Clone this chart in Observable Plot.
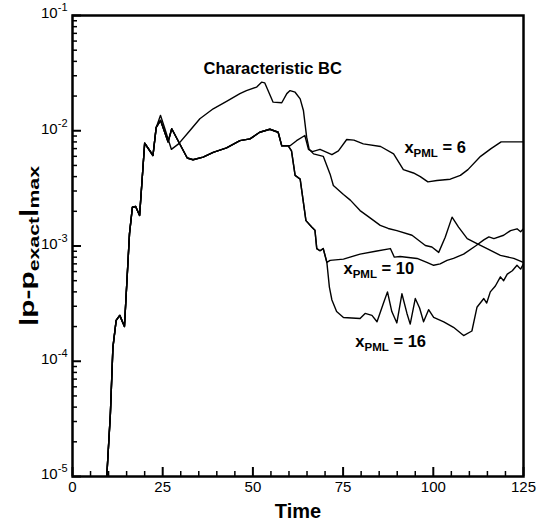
<!DOCTYPE html>
<html><head><meta charset="utf-8">
<script src="https://cdn.jsdelivr.net/npm/d3@7"></script>
<script src="https://cdn.jsdelivr.net/npm/@observablehq/plot@0.6"></script>
<style>body{margin:0;background:#fff} #chart svg{display:block}</style>
</head><body><div id="chart"></div>
<script>
// ---- data (Time, |p - p_exact|_max) ----
const rise = [[9.5,1e-5],[10.5,3.5e-5],[11.2,1.32e-4],[12.1,2.26e-4],[13.1,2.5e-4],[14.4,2.0e-4],[15.8,1.28e-3],[16.6,2.17e-3],[17.5,2.2e-3],[18.6,1.84e-3],[20.0,7.8e-3],[22.3,6.1e-3],[23.2,1.07e-2]];
const charBCTail = [[24.4,1.36e-2],[25.6,1.04e-2],[27.4,6.9e-3],[29.4,7.7e-3],[32.5,1.0e-2],[35.3,1.27e-2],[39,1.55e-2],[42.7,1.8e-2],[46.4,2.1e-2],[48.2,2.23e-2],[51,2.39e-2],[52.4,2.64e-2],[53.3,2.6e-2],[55.6,1.77e-2],[58,1.75e-2],[59.4,2.1e-2],[60.3,2.23e-2],[61.7,2.16e-2],[63.1,1.89e-2],[64,1.5e-2],[64.9,8.8e-3],[65.6,6.9e-3],[66.8,6.3e-3],[69.5,6.0e-3],[71.4,4.2e-3],[72.3,3.35e-3],[75.1,2.8e-3],[77,2.5e-3],[79.7,2.03e-3],[82,1.8e-3],[85.3,1.51e-3],[87.5,1.42e-3],[89.9,1.36e-3],[94.1,1.24e-3],[97.8,1.01e-3],[99.6,9.8e-4],[101.5,8.8e-4],[103.3,1.19e-3],[105.2,1.78e-3],[107,1.46e-3],[109.4,1.16e-3],[112.1,1.05e-3],[114.9,9.5e-4],[118.6,8.3e-4],[122.3,7.8e-4],[125,7.2e-4]];
const bundle = [[24.4,1.23e-2],[26.5,8.0e-3],[27.5,1.04e-2],[31.8,5.8e-3],[33.4,5.6e-3],[36.2,5.9e-3],[39,6.5e-3],[42.7,7.1e-3],[46.4,8.2e-3],[49.2,8.5e-3],[51.9,9.7e-3],[54.7,1.03e-2],[57,9.7e-3],[58,7.4e-3]];
const pml6Tail = [[60.3,7.4e-3],[62.1,8.2e-3],[64.4,9.1e-3],[65.4,6.9e-3],[66.5,6.6e-3],[68.6,6.9e-3],[70.5,6.5e-3],[71.9,6.2e-3],[73.7,6.7e-3],[76,8.4e-3],[78,8.3e-3],[80.6,7.7e-3],[85.4,7.3e-3],[89,6.3e-3],[91.7,4.6e-3],[94.5,4.3e-3],[96.4,4.0e-3],[98.5,3.6e-3],[101,3.7e-3],[104.7,3.8e-3],[107.5,4.1e-3],[109.6,4.6e-3],[113.1,6.0e-3],[116,7.0e-3],[118.8,8.0e-3],[125,8.0e-3]];
const drop = [[59.8,7.4e-3],[60.7,6.7e-3],[61.7,4.1e-3],[63.1,3.8e-3],[64.7,1.66e-3],[66.3,1.46e-3],[67.2,1.37e-3],[67.7,9.5e-4],[68.6,9.1e-4],[69.5,9.5e-4],[70.5,7.2e-4]];
const pml10Tail = [[71.4,7.5e-4],[75.1,7.7e-4],[79.7,8.5e-4],[84,9.0e-4],[88.1,9.5e-4],[89.2,8.0e-4],[90.8,8.1e-4],[95.5,7.8e-4],[98.2,7.2e-4],[100.1,6.8e-4],[101.9,7.0e-4],[103.8,7.5e-4],[105.6,7.8e-4],[108.4,8.5e-4],[111.7,1.0e-3],[114,1.13e-3],[115.4,1.2e-3],[116.8,1.16e-3],[119.5,1.24e-3],[121.4,1.36e-3],[123.2,1.41e-3],[124.2,1.33e-3],[125,1.41e-3]];
const pml16Tail = [[71.2,4.4e-4],[71.9,3.4e-4],[73.2,2.7e-4],[75.1,2.4e-4],[79.7,2.35e-4],[81.1,2.6e-4],[83,2.5e-4],[84.4,2.2e-4],[86.2,3.2e-4],[87.3,4.0e-4],[88.5,2.7e-4],[89.9,2.15e-4],[91.3,3.85e-4],[92.7,2.6e-4],[93.6,2.1e-4],[95,3.5e-4],[96.2,2.9e-4],[97.3,2.2e-4],[98.7,2.8e-4],[100.1,2.4e-4],[102.9,2.2e-4],[105.6,1.97e-4],[108.4,1.67e-4],[110.7,1.83e-4],[112.1,2.94e-4],[114,3.5e-4],[114.8,3.2e-4],[115.8,4.0e-4],[117.2,4.5e-4],[118.6,5.4e-4],[119.5,5.0e-4],[120.5,5.7e-4],[121.9,6.1e-4],[123.2,6.8e-4],[124.2,6.3e-4],[125,7.0e-4]];

const series = {
  "Characteristic BC": rise.concat(charBCTail),
  "x_PML = 6": rise.concat(bundle, pml6Tail),
  "x_PML = 10": rise.concat(bundle, drop, pml10Tail),
  "x_PML = 16": rise.concat(bundle, drop, pml16Tail)
};

const xMajor = [0,25,50,75,100,125];
const xMinor = [5,10,15,20,30,35,40,45,55,60,65,70,80,85,90,95,105,110,115,120];
const yMajor = [1e-5,1e-4,1e-3,1e-2,1e-1];
const yMinorMant = [2,3,4,5,6,7,8,9];
const yMinor = yMajor.slice(0,4).flatMap(d => yMinorMant.map(m => m*d));

const titleNote = [{t:36.3, v:3.12e-2, parts:[["Characteristic BC","n"]]}];
const pmlNotes = [
  {t:92.0, v:6.44e-3, parts:[["x","n"],["PML","sub"],[" = 6","n"]]},
  {t:75.1, v:5.74e-4, parts:[["x","n"],["PML","sub"],[" = 10","n"]]},
  {t:78.4, v:1.32e-4, parts:[["x","n"],["PML","sub"],[" = 16","n"]]}
];
const yTitleParts = [["|p-p","n"],["exact","sub"],["|","n"],["max","sub"]];
const xTitle = "Time";

// ---- build ----
const rows = [];
for (const [name, pts] of Object.entries(series)) for (const [t, v] of pts) rows.push({series: name, t, v});
const joined = parts => parts.map(p => p[0]).join("");

const font = "'Liberation Sans', Arial, Helvetica, sans-serif";
const W = 539, H = 526, mL = 72, mR = 16, mT = 15, mB = 50;
const innerW = W - mL - mR, innerH = H - mT - mB;

const plot = Plot.plot({
  width: W, height: H,
  marginLeft: mL, marginRight: mR, marginTop: mT, marginBottom: mB,
  style: {fontFamily: font, background: "white", color: "black"},
  x: {domain: [0, 125]},
  y: {type: "log", domain: [1e-5, 1e-1]},
  marks: [
    Plot.lineY(rows, {x: "t", y: "v", z: "series", stroke: "black", strokeWidth: 1.4, clip: true}),
    Plot.tickX(xMinor, {x: d => d, insetTop: innerH - 5, stroke: "black", strokeWidth: 1.5}),
    Plot.tickX(xMajor, {x: d => d, insetTop: innerH - 9, stroke: "black", strokeWidth: 2}),
    Plot.tickY(yMinor, {y: d => d, insetRight: innerW - 5, stroke: "black", strokeWidth: 1.5}),
    Plot.tickY(yMajor, {y: d => d, insetRight: innerW - 9, stroke: "black", strokeWidth: 2}),
    Plot.frame({stroke: "black", strokeWidth: 2.5}),
    Plot.axisX({ticks: xMajor, tickSize: 0, tickPadding: 5, fontSize: 15, tickFormat: d => String(d), label: null}),
    Plot.axisY({ticks: yMajor, tickSize: 0, tickPadding: 5, fontSize: 15, dy: -2, tickFormat: d => "10^" + Math.round(Math.log10(d)), label: null}),
    Plot.text([xTitle], {frameAnchor: "bottom", dy: 41, lineAnchor: "bottom", fontSize: 20, fontWeight: "bold", fill: "black"}),
    Plot.text([yTitleParts], {frameAnchor: "left", dx: -45, rotate: -90, textAnchor: "middle", lineAnchor: "middle",
      fontSize: 21, fontWeight: "bold", fill: "black", text: d => joined(d)}),
    Plot.text(titleNote, {x: "t", y: "v", text: d => joined(d.parts), textAnchor: "start",
      lineAnchor: "bottom", fontSize: 16.5, fontWeight: "bold", fill: "black"}),
    Plot.text(pmlNotes, {x: "t", y: "v", text: d => joined(d.parts), textAnchor: "start",
      lineAnchor: "bottom", fontSize: 16.5, fontWeight: "bold", fill: "black"})
  ]
});
document.getElementById("chart").appendChild(plot);

// ---- rich text (sub/superscripts) ----
function setRich(node, parts, subSize, shift) {
  node.textContent = "";
  let cur = 0;
  for (const [s, k] of parts) {
    const ts = document.createElementNS("http://www.w3.org/2000/svg", "tspan");
    const target = k === "sub" ? shift : k === "sup" ? -shift : 0;
    if (target !== cur) ts.setAttribute("dy", target - cur);
    cur = target;
    if (k !== "n") ts.setAttribute("font-size", subSize);
    ts.textContent = s;
    node.appendChild(ts);
  }
}
const svg = d3.select(plot);
svg.selectAll('g[aria-label="y-axis tick label"] text').each(function() {
  const s = this.textContent.split("^");
  setRich(this, [[s[0], "n"], [s[1], "sup"]], 11, 7);
});
const pmlMap = new Map(pmlNotes.map(d => [joined(d.parts), d.parts]));
const yTitleStr = joined(yTitleParts);
svg.selectAll("text").each(function() {
  const s = this.textContent;
  if (pmlMap.has(s)) setRich(this, pmlMap.get(s), 11.5, 4);
  else if (s === yTitleStr) {
    setRich(this, yTitleParts, 15, 5);
    this.setAttribute("textLength", 160);
    this.setAttribute("lengthAdjust", "spacingAndGlyphs");
  }
});
</script></body></html>
